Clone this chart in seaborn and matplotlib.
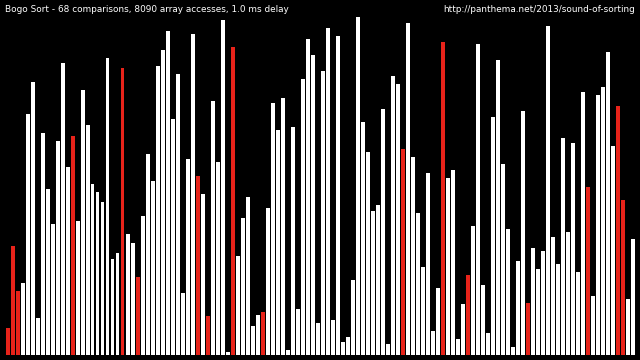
import matplotlib
matplotlib.use("Agg")
import matplotlib.pyplot as plt
import seaborn as sns
import pandas as pd

# bar heights (array values after a shuffle)
values = [27, 109, 64, 72, 241, 273, 37, 222, 166, 131, 214, 292, 188, 219, 134, 265,
          230, 171, 163, 153, 297, 96, 102, 287, 121, 112, 78, 139, 201, 174, 289, 305,
          324, 236, 281, 62, 196, 321, 179, 161, 39, 254, 193, 335, 3, 308, 99, 137,
          158, 29, 40, 43, 147, 252, 225, 257, 5, 228, 46, 276, 316, 300, 32, 284,
          327, 35, 319, 13, 18, 75, 338, 233, 203, 144, 150, 246, 11, 279, 271, 206,
          332, 198, 142, 88, 182, 24, 67, 313, 177, 185, 16, 51, 80, 129, 311, 70,
          22, 238, 295, 191, 126, 8, 94, 244, 52, 107, 86, 104, 329, 118, 91, 217,
          123, 212, 83, 263, 168, 59, 260, 268, 303, 209, 249, 155, 56, 116]
# indices of highlighted (accessed) elements
highlighted = [0, 1, 2, 13, 23, 26, 38, 40, 45, 51, 79, 87, 92, 104, 116, 122, 123]

title_left = "Bogo Sort - 68 comparisons, 8090 array accesses, 1.0 ms delay"
title_right = "http://panthema.net/2013/sound-of-sorting"

df = pd.DataFrame({
    "idx": list(range(len(values))),
    "value": values,
    "kind": ["hl" if i in highlighted else "normal" for i in range(len(values))],
})

fig = plt.figure(figsize=(6.4, 3.6), dpi=100, facecolor="black")
ax = fig.add_axes([5 / 640, 5 / 360, 630 / 640, 355 / 360])
ax.set_facecolor("black")
sns.barplot(data=df, x="idx", y="value", hue="kind",
            palette={"normal": "#ffffff", "hl": "#e8231a"},
            dodge=False, width=0.8, linewidth=0, saturation=1,
            legend=False, ax=ax)
ax.set_xlim(-0.5, len(values) - 0.5)
ax.set_ylim(0, 355)
ax.axis("off")

fig.text(5 / 640, 1 - 10 / 360, title_left, color="white", fontsize=6.4,
         ha="left", va="center", family="DejaVu Sans")
fig.text(635 / 640, 1 - 10 / 360, title_right, color="white", fontsize=6.4,
         ha="right", va="center", family="DejaVu Sans")

fig.savefig("out.png", dpi=100, facecolor="black")
